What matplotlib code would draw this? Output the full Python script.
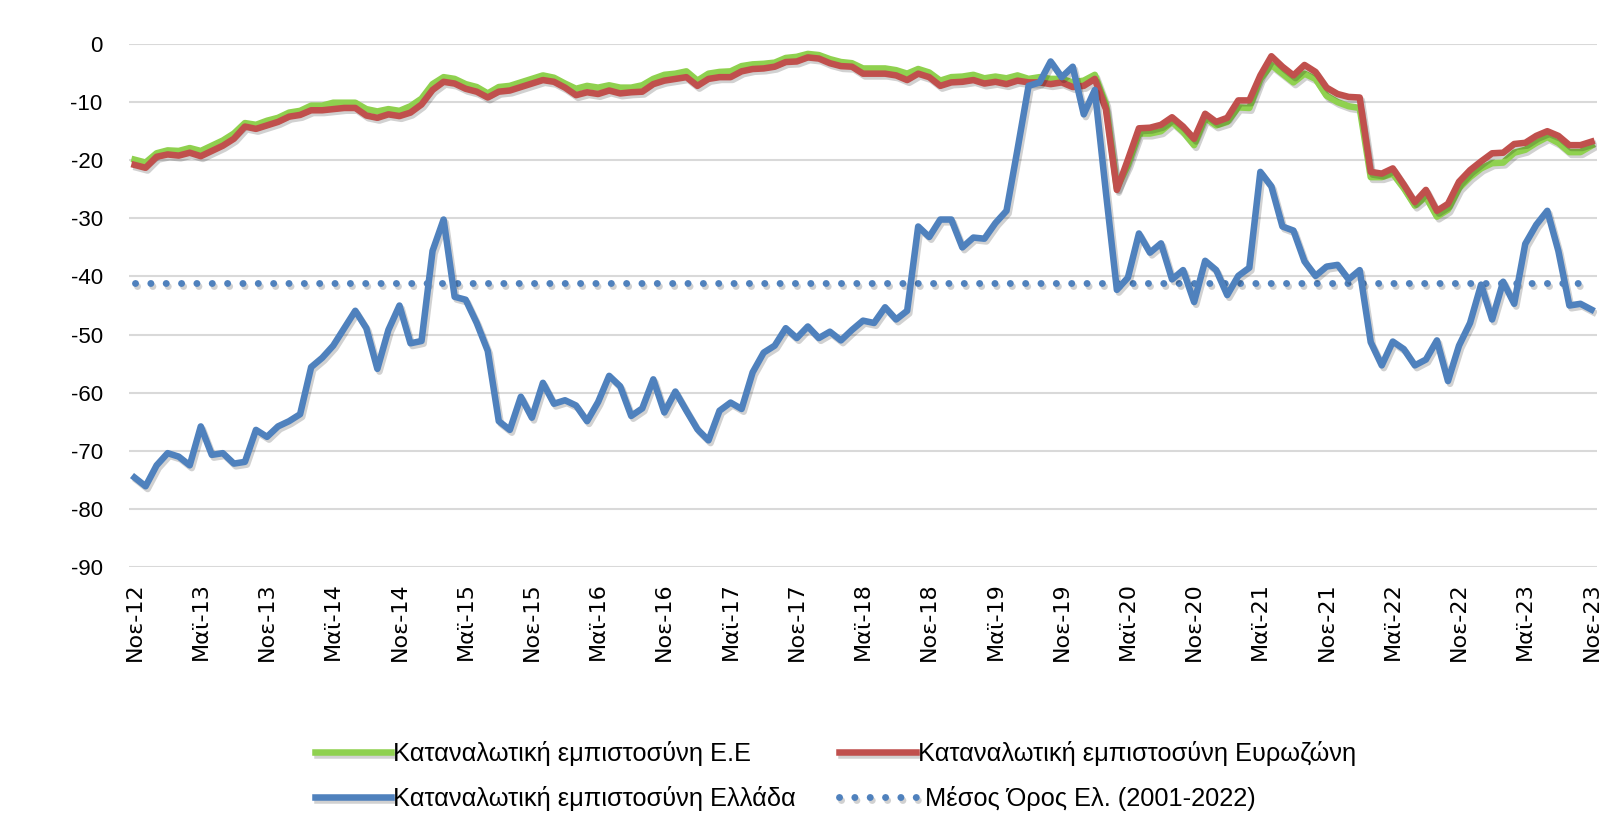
import numpy as np
import matplotlib
matplotlib.use("Agg")
import matplotlib.pyplot as plt
import matplotlib.patheffects as pe

plt.rcParams["axes.unicode_minus"] = False

# monthly values, Nov-2012 .. Nov-2023
eu = [-19.9, -20.4, -18.8, -18.3, -18.4, -17.9, -18.4, -17.5, -16.6, -15.4,
      -13.6, -13.9, -13.2, -12.7, -11.8, -11.5, -10.6, -10.6, -10.1, -10.1,
      -10.1, -11.2, -11.6, -11.2, -11.5, -10.7, -9.4, -6.9, -5.7, -6.0,
      -6.9, -7.4, -8.5, -7.4, -7.2, -6.6, -6.0, -5.4, -5.8, -6.8,
      -7.7, -7.2, -7.5, -7.1, -7.5, -7.5, -7.1, -6.0, -5.3, -5.1,
      -4.7, -6.3, -5.1, -4.8, -4.7, -3.8, -3.5, -3.4, -3.2, -2.4,
      -2.2, -1.7, -1.9, -2.6, -3.1, -3.3, -4.2, -4.2, -4.2, -4.5,
      -5.1, -4.3, -4.9, -6.3, -5.7, -5.6, -5.3, -5.9, -5.6, -5.9,
      -5.4, -6.0, -5.7, -6.0, -6.0, -6.6, -6.3, -5.3, -10.3, -24.8,
      -20.8, -15.4, -15.4, -15.0, -13.4, -15.1, -17.4, -12.7, -14.0, -13.4,
      -10.9, -11.0, -6.0, -3.6, -5.1, -6.6, -5.1, -6.0, -8.9, -10.0,
      -10.7, -11.0, -22.9, -22.9, -22.3, -24.8, -27.8, -26.3, -29.7, -28.5,
      -24.8, -22.9, -21.4, -20.5, -20.4, -18.7, -18.2, -17.0, -16.0, -17.0,
      -18.6, -18.6, -17.5]

euro = [-20.8, -21.3, -19.4, -19.0, -19.2, -18.7, -19.3, -18.4, -17.5, -16.3,
        -14.2, -14.6, -14.0, -13.4, -12.5, -12.2, -11.4, -11.4, -11.2, -11.0,
        -11.0, -12.3, -12.7, -12.1, -12.4, -11.8, -10.4, -7.9, -6.5, -6.8,
        -7.7, -8.2, -9.2, -8.2, -8.0, -7.4, -6.8, -6.2, -6.5, -7.5,
        -8.8, -8.3, -8.6, -8.0, -8.5, -8.3, -8.2, -6.9, -6.3, -6.0,
        -5.7, -7.2, -6.0, -5.7, -5.7, -4.7, -4.3, -4.2, -3.9, -3.1,
        -3.0, -2.3, -2.5, -3.3, -3.8, -3.9, -5.1, -5.1, -5.1, -5.4,
        -6.2, -5.1, -5.7, -7.2, -6.6, -6.5, -6.2, -6.8, -6.5, -6.9,
        -6.3, -6.6, -6.6, -6.9, -6.6, -7.4, -7.2, -6.0, -11.2, -25.1,
        -19.9, -14.5, -14.4, -13.9, -12.6, -14.2, -16.3, -12.0, -13.4, -12.7,
        -9.7, -9.7, -5.4, -2.1, -3.9, -5.4, -3.6, -4.8, -7.5, -8.6,
        -9.1, -9.2, -22.0, -22.3, -21.4, -24.2, -27.2, -25.1, -28.7, -27.5,
        -23.7, -21.7, -20.2, -18.8, -18.7, -17.2, -17.0, -15.8, -15.0, -15.8,
        -17.4, -17.4, -16.8]

greece = [-74.6, -76.1, -72.5, -70.4, -71.0, -72.5, -65.8, -70.7, -70.4, -72.2,
          -71.9, -66.4, -67.6, -65.8, -64.9, -63.7, -55.6, -54.0, -51.9, -48.9,
          -45.9, -48.9, -55.9, -49.2, -45.0, -51.5, -51.1, -35.6, -30.2, -43.5,
          -44.0, -48.0, -52.8, -64.9, -66.4, -60.7, -64.3, -58.3, -61.9, -61.3,
          -62.2, -64.9, -61.6, -57.1, -58.9, -64.0, -62.7, -57.7, -63.4, -59.8,
          -63.1, -66.3, -68.2, -63.1, -61.7, -62.8, -56.5, -53.1, -51.9, -48.9,
          -50.6, -48.6, -50.6, -49.5, -51.0, -49.2, -47.6, -48.0, -45.3, -47.4,
          -45.9, -31.4, -33.2, -30.2, -30.2, -35.0, -33.3, -33.5, -30.8, -28.7,
          -18.1, -7.2, -6.6, -3.0, -5.7, -3.9, -12.1, -7.9, -25.4, -42.3,
          -40.2, -32.6, -35.9, -34.3, -40.5, -38.9, -44.4, -37.3, -38.9, -43.2,
          -39.9, -38.5, -22.0, -24.5, -31.4, -32.1, -37.4, -39.9, -38.3, -38.0,
          -40.5, -38.9, -51.3, -55.3, -51.2, -52.5, -55.3, -54.3, -51.0, -58.0,
          -51.9, -48.0, -41.4, -47.4, -40.9, -44.7, -34.4, -31.1, -28.7, -35.6,
          -45.0, -44.7, -45.7]

greece_mean = -41.1  # 2001-2022

tick_labels = ["Νοε-12", "Μαϊ-13", "Νοε-13", "Μαϊ-14", "Νοε-14", "Μαϊ-15",
               "Νοε-15", "Μαϊ-16", "Νοε-16", "Μαϊ-17", "Νοε-17", "Μαϊ-18",
               "Νοε-18", "Μαϊ-19", "Νοε-19", "Μαϊ-20", "Νοε-20", "Μαϊ-21",
               "Νοε-21", "Μαϊ-22", "Νοε-22", "Μαϊ-23", "Νοε-23"]

x = np.arange(len(greece))

fig = plt.figure(figsize=(16.19, 8.34), dpi=100)
ax = fig.add_axes([0.0797, 0.3201, 0.9067, 0.6271])

shadow = [pe.SimpleLineShadow(offset=(1.5, -2), shadow_color="k", alpha=0.18),
          pe.Normal()]

ax.plot(x, [greece_mean] * len(x), color="#4f81bd", lw=5,
        linestyle=(0, (0.01, 2.2)), dash_capstyle="round",
        path_effects=shadow, zorder=2,
        label=" Μέσος Όρος Ελ. (2001-2022)")
ax.plot(x, eu, color="#8fd14f", lw=4.7, path_effects=shadow, zorder=3,
        label="Καταναλωτική εμπιστοσύνη Ε.Ε", solid_joinstyle="round")
ax.plot(x, euro, color="#c0504d", lw=4.7, path_effects=shadow, zorder=4,
        label="Καταναλωτική εμπιστοσύνη Ευρωζώνη", solid_joinstyle="round")
ax.plot(x, greece, color="#4f81bd", lw=4.7, path_effects=shadow, zorder=5,
        label="Καταναλωτική εμπιστοσύνη Ελλάδα", solid_joinstyle="round")

ax.set_xlim(-0.5, len(x) - 0.5)
ax.set_ylim(-90, 0)
ax.set_yticks(np.arange(-90, 1, 10))
ax.grid(axis="y", color="#d9d9d9", lw=1.5)
ax.set_axisbelow(True)
for s in ax.spines.values():
    s.set_visible(False)

ax.set_xticks(x[::6])
ax.set_xticklabels(tick_labels, rotation=90)
ax.tick_params(axis="x", length=0, pad=11, labelsize=16)
ax.tick_params(axis="y", length=0, pad=19, labelsize=16)
for lab in ax.get_xticklabels():
    lab.set_family("DejaVu Sans")
for lab in ax.get_yticklabels():
    lab.set_family(["Liberation Sans", "DejaVu Sans"])

h, l = ax.get_legend_handles_labels()
order = [1, 3, 2, 0]
fig.legend([h[i] for i in order], [l[i] for i in order], ncol=2,
           loc="center", bbox_to_anchor=(0.516, 0.0695), frameon=False,
           prop={"family": ["Liberation Sans", "DejaVu Sans"], "size": 18.3},
           handlelength=3.0, handletextpad=0.1, columnspacing=1.7,
           labelspacing=0.8)

fig.savefig("out.png", dpi=100)
